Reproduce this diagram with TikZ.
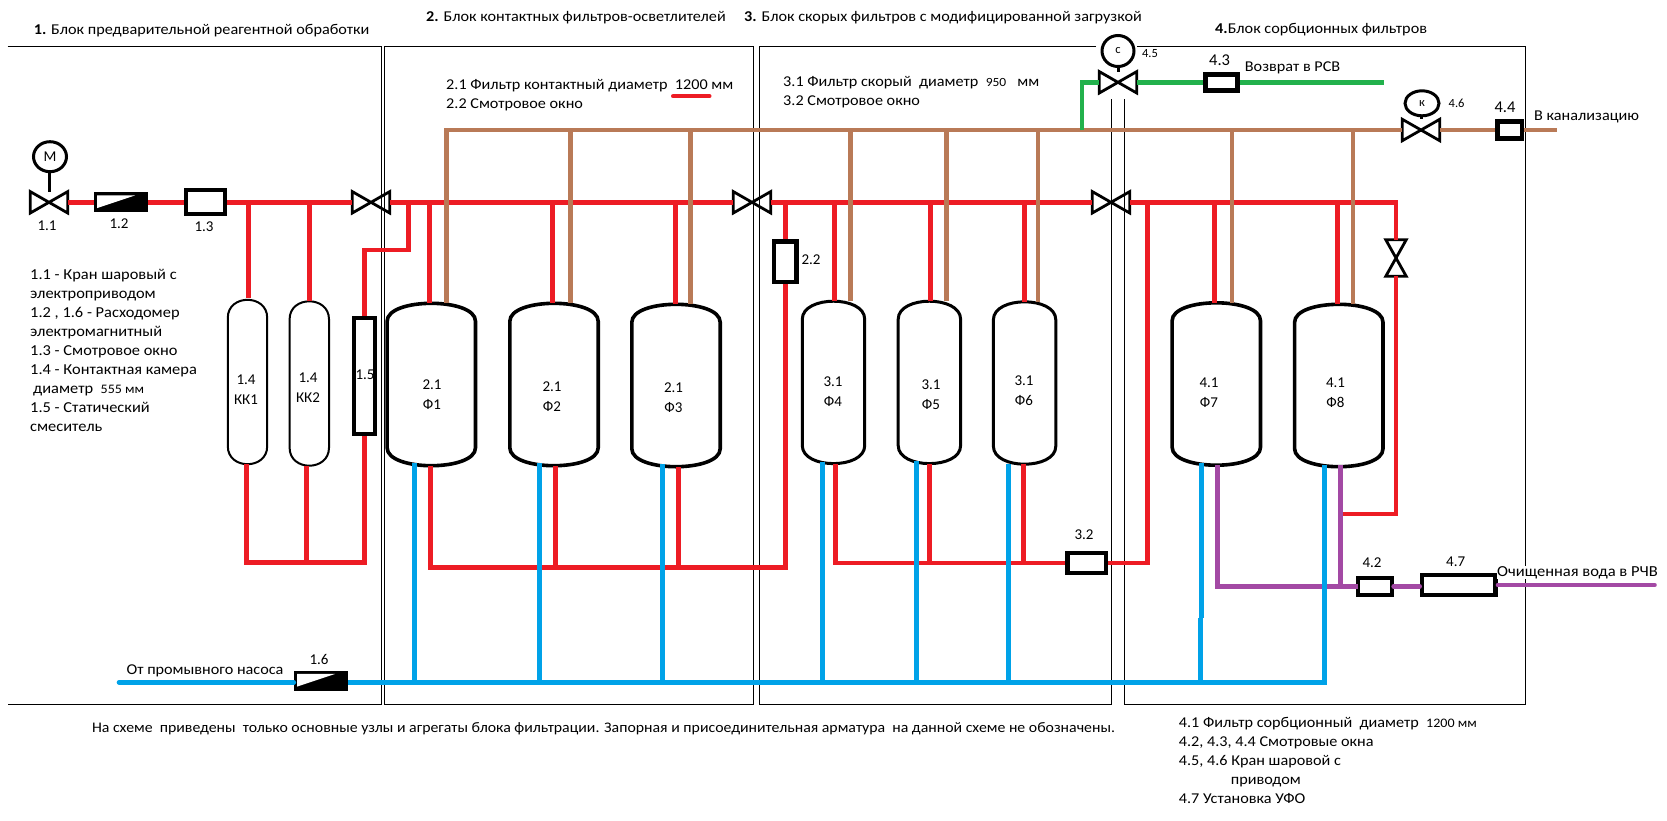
\documentclass[tikz,border=0pt]{standalone}
\usepackage{fontspec}
\setmainfont[FakeStretch=1.08]{Carlito}
\newfontfamily\numfont{Carlito}
\usetikzlibrary{shapes.geometric, calc}
\definecolor{redpipe}{HTML}{ED1C24}
\definecolor{bluepipe}{HTML}{00A2E8}
\definecolor{brownpipe}{HTML}{B97A57}
\definecolor{greenpipe}{HTML}{22B14C}
\definecolor{violetpipe}{HTML}{A349A4}
\tikzstyle{frame} = [draw=black, line width=1pt]
\tikzstyle{note} = [inner sep=0pt, font=\fontsize{15}{19}\selectfont, align=left]
\tikzstyle{num} = [inner sep=0pt, font=\numfont\fontsize{15}{20}\selectfont, align=center]
\tikzstyle{numbig} = [inner sep=0pt, font=\numfont\fontsize{16.5}{20}\selectfont]
\tikzstyle{numsmall} = [inner sep=0pt, font=\numfont\fontsize{12.5}{15}\selectfont]
\tikzstyle{window} = [rectangle, draw=black, fill=white, line width=4pt, inner sep=0pt]
\tikzstyle{meter} = [rectangle, fill=black, inner sep=0pt, minimum width=54pt, minimum height=20pt]
\tikzstyle{valve} = [rectangle, inner sep=0pt, minimum width=37pt, minimum height=21pt]
\tikzstyle{actuator} = [ellipse, draw=black, fill=white, line width=3pt, inner sep=0pt]
\tikzstyle{tankwide} = [rectangle, inner sep=0pt, minimum width=88pt, minimum height=162pt]
\tikzstyle{tankmid} = [rectangle, inner sep=0pt, minimum width=62pt, minimum height=162pt]
\tikzstyle{tankthin} = [rectangle, inner sep=0pt, minimum width=39pt, minimum height=164pt]
\tikzstyle{pipe} = [line width=4.6pt]
\newcommand{\tankoutline}[1]{([yshift=-18pt]#1.north west) .. controls ([yshift=-6pt]#1.north west) and ($(#1.north west)!0.5!(#1.north)$) .. (#1.north) .. controls ($(#1.north east)!0.5!(#1.north)$) and ([yshift=-6pt]#1.north east) .. ([yshift=-18pt]#1.north east) -- ([yshift=18pt]#1.south east) .. controls ([yshift=6pt]#1.south east) and ($(#1.south east)!0.5!(#1.south)$) .. (#1.south) .. controls ($(#1.south west)!0.5!(#1.south)$) and ([yshift=6pt]#1.south west) .. ([yshift=18pt]#1.south west) -- cycle}

\begin{document}
\begin{tikzpicture}[x=1pt, y=-1pt]
\useasboundingbox (0,0) rectangle (1667,820);

% Block frames
\draw [frame] (7.5,46.7) -- (381.5,46.7) -- (381.5,704.3) -- (7.5,704.3);
\draw [frame] (384.5,46.7) rectangle (753.7,704.3);
\draw [frame] (1096,46.7) -- (759,46.7) -- (759,704.3) -- (1111.5,704.3) -- (1111.5,99);
\draw [frame] (1124.7,99) -- (1124.7,704.3) -- (1525.5,704.3) -- (1525.5,46.7) -- (1137,46.7);

% Block titles
\node (T1) [note, anchor=west] at (33.6,30.7) {\textbf{1.} Блок предварительной реагентной обработки};
\node (T2) [note, anchor=west] at (426,17.3) {\textbf{2.} Блок контактных фильтров-осветлителей};
\node (T3) [note, anchor=west] at (744,17.3) {\textbf{3.} Блок скорых фильтров с модифицированной загрузкой};
\node (T4) [note, anchor=west] at (1215,29.3) {\textbf{4.}Блок сорбционных фильтров};

% Legends
\node (L1) [note, font=\fontsize{15.2}{19}\selectfont, anchor=north west] at (30,269.5) {1.1 - Кран шаровый с\\электроприводом\\1.2 , 1.6 - Расходомер\\электромагнитный\\1.3 - Смотровое окно\\1.4 - Контактная камера\\\hspace*{3pt}диаметр\ \ {\fontsize{13}{19}\selectfont 555 мм}\\1.5 - Статический\\смеситель};
\node (L2) [note, anchor=north west] at (446,79.5) {2.1 Фильтр контактный диаметр\ \ 1200 мм\\2.2 Смотровое окно};
\node (L3) [note, anchor=north west] at (783,76) {3.1 Фильтр скорый\ \ диаметр\ \ {\fontsize{12.5}{19}\selectfont 950}\ \ \ мм\\3.2 Смотровое окно};
\node (L4) [note, anchor=north west] at (1178.7,717) {4.1 Фильтр сорбционный\ \ диаметр\ \ {\fontsize{13}{19}\selectfont 1200 мм}\\4.2, 4.3, 4.4 Смотровые окна\\4.5, 4.6 Кран шаровой с\\\hspace*{52pt}приводом\\4.7 Установка УФО};
\node (N) [note, font=\fontsize{14.65}{19}\selectfont, anchor=west] at (91.8,728.3) {На схеме\ \ приведены\ \ только основные узлы и агрегаты блока фильтрации. Запорная и присоединительная арматура\ \ на данной схеме не обозначены.};

% Valves
\node (V1) [valve] at (49,202.3) {};
\node (V2) [valve] at (371,202.3) {};
\node (V3) [valve] at (752,202.3) {};
\node (V4) [valve] at (1111,202.3) {};
\node (V45) [valve] at (1118,82.3) {};
\node (V46) [valve] at (1421,130) {};
\node (V5) [valve, minimum width=20pt, minimum height=36pt] at (1396,258) {};

% Actuators
\node (AM) [actuator, font=\numfont\fontsize{15}{15}\selectfont, minimum width=33pt, minimum height=30pt] at (50,156.7) {М};
\node (A45) [actuator, font=\numfont\fontsize{12.5}{14}\selectfont, minimum width=32pt, minimum height=31pt] at (1118,51) {с};
\node (A46) [actuator, font=\numfont\fontsize{12.5}{14}\selectfont, minimum width=34pt, minimum height=25pt] at (1422,103.3) {к};

% Meters and windows
\node (M12) [meter] at (121,202.3) {};
\node (M16) [meter] at (321,680.8) {};
\node (W13) [window, minimum width=39pt, minimum height=24pt] at (205.5,202.3) {};
\node (M15) [window, line width=3.6pt, minimum width=21.4pt, minimum height=116pt] at (364.5,376) {};
\node (W22) [window, line width=4.5pt, minimum width=22.5pt, minimum height=40.5pt] at (785.3,261.5) {};
\node (W32) [window, line width=4.5pt, minimum width=38.5pt, minimum height=20pt] at (1086.5,563) {};
\node (W42) [window, minimum width=34pt, minimum height=16.7pt] at (1374.6,586.3) {};
\node (W43) [window, line width=4.5pt, minimum width=32pt, minimum height=16pt] at (1221.7,82.3) {};
\node (W44) [window, line width=4.5pt, minimum width=24.5pt, minimum height=17.2pt] at (1509.5,130) {};
\node (W47) [window, line width=4.5pt, minimum width=73.8pt, minimum height=20.2pt] at (1458.8,585) {};

% Vessels
\node (KK1) [tankthin] at (247.5,382) {};
\node (KK2) [tankthin] at (309.3,383.5) {};
\node (F1) [tankwide] at (431.3,384.5) {};
\node (F2) [tankwide] at (554,384.5) {};
\node (F3) [tankwide] at (676,385.5) {};
\node (F4) [tankmid] at (833.5,382.4) {};
\node (F5) [tankmid] at (929.4,382.4) {};
\node (F6) [tankmid] at (1024.6,383) {};
\node (F7) [tankwide] at (1216.3,384) {};
\node (F8) [tankwide] at (1338.8,385.5) {};

\foreach \tk in {KK1,KK2}
  \draw [line width=2pt] \tankoutline{\tk};
\foreach \tk in {F4,F5,F6}
  \draw [line width=3pt] \tankoutline{\tk};
\foreach \tk in {F1,F2,F3,F7,F8}
  \draw [line width=3.6pt] \tankoutline{\tk};

% Valve and meter symbols
\foreach \vv in {V1,V2,V3,V4,V45,V46}
  \draw [line width=2.8pt] (\vv.north west) -- (\vv.south east) -- (\vv.north east) -- (\vv.south west) -- cycle;
\draw [line width=2.8pt] (V5.north west) -- (V5.south east) -- (V5.south west) -- (V5.north east) -- cycle;
\foreach \mm in {M12,M16}
  \fill [white] ([shift={(3.3pt,-3.3pt)}]\mm.north west) -- ([shift={(-13pt,-3.3pt)}]\mm.north east) -- ([shift={(3.3pt,4.4pt)}]\mm.south west) -- cycle;
\draw [line width=3pt] (V1 |- AM.south) -- (V1);
\draw [line width=3pt] (V45 |- A45.south) -- (V45);
\draw [line width=3pt] (V46 |- A46.south) -- (V46);

% Tank and equipment numbers
\node (tKK1) [num] at (246,390) {1.4\\КК1};
\node (tKK2) [num] at (308,388) {1.4\\КК2};
\node (tM15) [num] at (365,375) {1.5};
\node (tF1) [num] at (432,394.5) {2.1\\Ф1};
\node (tF2) [num] at (552,397) {2.1\\Ф2};
\node (tF3) [num] at (673.5,398) {2.1\\Ф3};
\node (tF4) [num] at (833,391.5) {3.1\\Ф4};
\node (tF5) [num] at (931,394.5) {3.1\\Ф5};
\node (tF6) [num] at (1024,391) {3.1\\Ф6};
\node (tF7) [num] at (1209,392.5) {4.1\\Ф7};
\node (tF8) [num] at (1335.5,392.5) {4.1\\Ф8};
\node (t11) [num] at (47,226) {1.1};
\node (t12) [num] at (119,224) {1.2};
\node (t13) [num] at (204,227) {1.3};
\node (t16) [num] at (319,659) {1.6};
\node (t22) [num] at (811,260) {2.2};
\node (t32) [num] at (1084,535) {3.2};
\node (t42) [num] at (1372,563) {4.2};
\node (t43) [numbig] at (1219.6,60) {4.3};
\node (t44) [numbig] at (1505,107.7) {4.4};
\node (t45) [numsmall] at (1150,54) {4.5};
\node (t46) [numsmall] at (1456.6,103) {4.6};
\node (t47) [num] at (1455.7,562) {4.7};

% Red line
\coordinate (rk1) at (248.6,202.3);
\coordinate (rk2) at (309.6,202.3);
\coordinate (rmx) at (408.6,202.3);
\coordinate (rmd) at (408.6,250);
\coordinate (rf1) at (429.6,202.3);
\coordinate (rf2) at (552.6,202.3);
\coordinate (rf3) at (675.5,202.3);
\coordinate (rf4) at (834.5,202.3);
\coordinate (rf5) at (930.5,202.3);
\coordinate (rf6) at (1024.4,202.3);
\coordinate (rf7) at (1214.5,202.3);
\coordinate (rf8) at (1337.4,202.3);
\coordinate (rw) at (785.3,202.3);
\coordinate (rret) at (1147.7,202.3);
\coordinate (rend) at (1396,202.3);
\coordinate (rlow) at (1396,514);
\coordinate (rlowb) at (1341.7,514);
\coordinate (rbk1) at (246.4,562.3);
\coordinate (rbk2) at (306.4,562.3);
\coordinate (rbk3) at (364.5,562.3);
\coordinate (rbf1) at (430.5,567.7);
\coordinate (rbf2) at (555.5,567.7);
\coordinate (rbf3) at (678.6,567.7);
\coordinate (rbw) at (785.3,567.7);
\coordinate (rbf4) at (835.6,563);
\coordinate (rbf5) at (929.7,563);
\coordinate (rbf6) at (1023.3,563);
\coordinate (rbr) at (1147.7,563);

\draw [pipe, redpipe] (V1.east) -- (M12.west);
\draw [pipe, redpipe] (M12.east) -- (W13.west);
\draw [pipe, redpipe] (W13.east) -- (V2.west);
\draw [pipe, redpipe] (V2.east) -- (V3.west);
\draw [pipe, redpipe] (V3.east) -- (V4.west);
\draw [pipe, redpipe] (V4.east) -- (rend) -- (V5.north);
\draw [pipe, redpipe] (V5.south) -- (rlow) -- (rlowb);
\draw [pipe, redpipe, shorten >=2pt] (rk1) -- (rk1 |- KK1.north);
\draw [pipe, redpipe] (rk2) -- (rk2 |- KK2.north);
\draw [pipe, redpipe] (rmx) -- (rmd) -- (rmd -| M15.north) -- (M15.north);
\draw [pipe, redpipe] (rf1) -- (rf1 |- F1.north);
\draw [pipe, redpipe] (rf2) -- (rf2 |- F2.north);
\draw [pipe, redpipe] (rf3) -- (rf3 |- F3.north);
\draw [pipe, redpipe] (rf4) -- (rf4 |- F4.north);
\draw [pipe, redpipe] (rf5) -- (rf5 |- F5.north);
\draw [pipe, redpipe] (rf6) -- (rf6 |- F6.north);
\draw [pipe, redpipe] (rf7) -- (rf7 |- F7.north);
\draw [pipe, redpipe] (rf8) -- (rf8 |- F8.north);
\draw [pipe, redpipe] (rw) -- (W22.north);
\draw [pipe, redpipe] (W22.south) -- (rbw) -- (rbf1) -- (rbf1 |- F1.south);
\draw [pipe, redpipe] (rbf2) -- (rbf2 |- F2.south);
\draw [pipe, redpipe] (rbf3) -- (rbf3 |- F3.south);
\draw [pipe, redpipe] (rbk1 |- KK1.south) -- (rbk1) -- (rbk3) -- (M15.south);
\draw [pipe, redpipe] (rbk2) -- (rbk2 |- KK2.south);
\draw [pipe, redpipe] (rbf4 |- F4.south) -- (rbf4) -- (W32.west);
\draw [pipe, redpipe] (rbf5) -- (rbf5 |- F5.south);
\draw [pipe, redpipe] (rbf6) -- (rbf6 |- F6.south);
\draw [pipe, redpipe] (W32.east) -- (rbr) -- (rret);

% Red mark under the diameter
\coordinate (ula) at (673,96.3);
\coordinate (ulb) at (709.5,96.3);
\draw [pipe, redpipe, line cap=round, line width=4pt] (ula) -- (ulb);

% Brown line
\coordinate (bf1) at (446.4,130);
\coordinate (bf2) at (570.7,130);
\coordinate (bf3) at (690.6,130);
\coordinate (bf4) at (850.5,130);
\coordinate (bf5) at (946.5,130);
\coordinate (bf6) at (1038,130);
\coordinate (bf7) at (1232,130);
\coordinate (bf8) at (1352.8,130);
\coordinate (bend) at (1557,130);
\draw [pipe, brownpipe] (bf1 |- F1.north) -- (bf1) -- (V46.west);
\draw [pipe, brownpipe] (V46.east) -- (W44.west);
\draw [pipe, brownpipe] (W44.east) -- (bend);
\draw [pipe, brownpipe] (bf2) -- (bf2 |- F2.north);
\draw [pipe, brownpipe] (bf3) -- (bf3 |- F3.north);
\draw [pipe, brownpipe] (bf4) -- (bf4 |- F4.north);
\draw [pipe, brownpipe] (bf5) -- (bf5 |- F5.north);
\draw [pipe, brownpipe] (bf6) -- (bf6 |- F6.north);
\draw [pipe, brownpipe] (bf7) -- (bf7 |- F7.north);
\draw [pipe, brownpipe] (bf8) -- (bf8 |- F8.north);

% Green line
\coordinate (gj) at (1082,130);
\coordinate (gc) at (1082,82.3);
\coordinate (gend) at (1384,82.3);
\draw [pipe, greenpipe] (gj) -- (gc) -- (V45.west);
\draw [pipe, greenpipe] (V45.east) -- (W43.west);
\draw [pipe, greenpipe] (W43.east) -- (gend);

% Violet line
\coordinate (pf7) at (1217.4,586.3);
\coordinate (pf8) at (1340.4,586.3);
\coordinate (pend) at (1654.5,585);
\draw [pipe, violetpipe, shorten >=-2pt] (pf7 |- F7.south) -- (pf7) -- (W42.west);
\draw [pipe, violetpipe, shorten >=-2pt] (pf8) -- (pf8 |- F8.south);
\draw [pipe, violetpipe, line cap=round] (W42.east) -- (W42.east -| W47.west);
\draw [pipe, violetpipe, line cap=round] (W47.east) -- (pend);

% Blue line
\coordinate (wst) at (119,682.3);
\coordinate (wend) at (1327,682.3);
\coordinate (wf1) at (414.6,682.3);
\coordinate (wf2) at (539.5,682.3);
\coordinate (wf3) at (662.6,682.3);
\coordinate (wf4) at (822.6,682.3);
\coordinate (wf5) at (916.6,682.3);
\coordinate (wf6) at (1008.7,682.3);
\coordinate (wf7) at (1200.4,682.3);
\coordinate (wf7m) at (1200.4,617.7);
\coordinate (wf7n) at (1201.7,617.7);
\coordinate (wf8) at (1324.5,682.3);
\draw [pipe, bluepipe, line cap=round] (wst) -- (wst -| M16.west);
\draw [pipe, bluepipe] (wst -| M16.east) -- (wend);
\draw [pipe, bluepipe, shorten >=-3pt] (wf1) -- (wf1 |- F1.south);
\draw [pipe, bluepipe, shorten >=-3pt] (wf2) -- (wf2 |- F2.south);
\draw [pipe, bluepipe, shorten >=-3pt] (wf3) -- (wf3 |- F3.south);
\draw [pipe, bluepipe, shorten >=-2pt] (wf4) -- (wf4 |- F4.south);
\draw [pipe, bluepipe, shorten >=-3pt] (wf5) -- (wf5 |- F5.south);
\draw [pipe, bluepipe] (wf6) -- (wf6 |- F6.south);
\draw [pipe, bluepipe] (wf7) -- (wf7m);
\draw [pipe, bluepipe, shorten >=-2pt] (wf7n) -- (wf7n |- F7.south);
\draw [pipe, bluepipe, shorten >=-2pt] (wf8) -- (wf8 |- F8.south);

% Line names
\node (Ret) [note, anchor=west] at (1244.7,68.3) {Возврат в РСВ};
\node (Sew) [note, anchor=west] at (1534,116.7) {В канализацию};
\node (Pur) [note, font=\fontsize{15.3}{19}\selectfont, anchor=west, fill=white] at (1497,572.7) {Очищенная вода в РЧВ};
\node (Src) [note, anchor=west] at (126.4,670.7) {От промывного насоса};

\end{tikzpicture}
\end{document}
